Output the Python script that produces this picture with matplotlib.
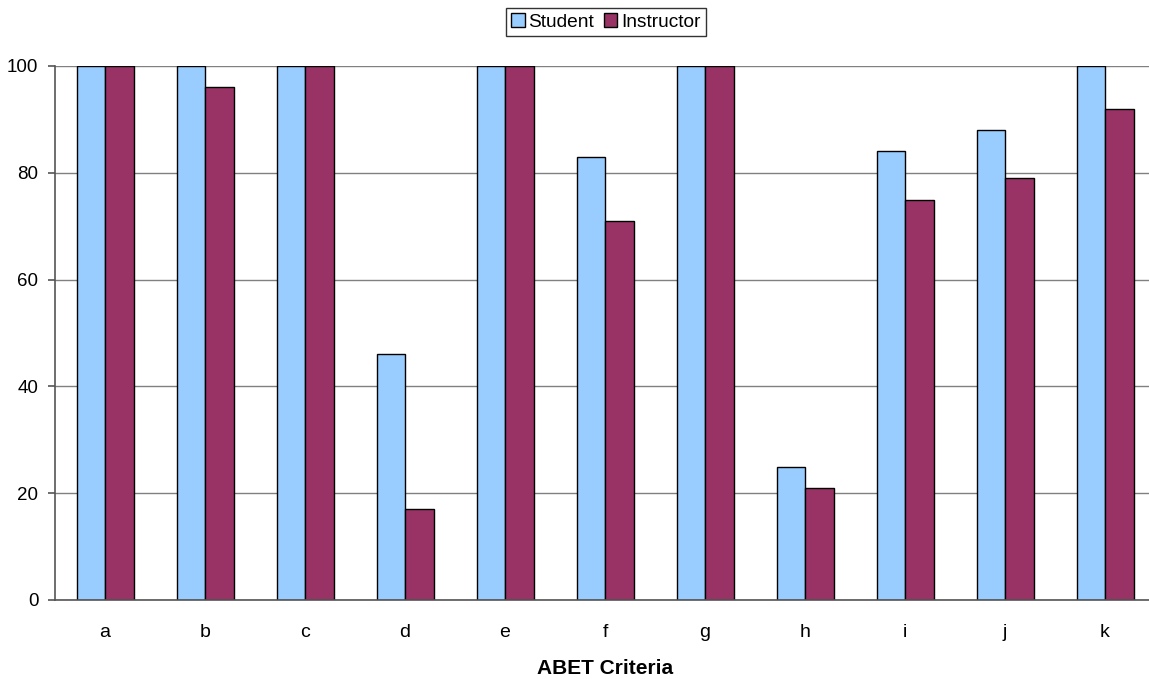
import matplotlib
matplotlib.use("Agg")
import matplotlib.pyplot as plt
import numpy as np
from matplotlib.patches import Patch

plt.rcParams['font.family'] = ['Liberation Sans', 'DejaVu Sans']

categories = ['a', 'b', 'c', 'd', 'e', 'f', 'g', 'h', 'i', 'j', 'k']
student = [100, 100, 100, 46, 100, 83, 100, 25, 84, 88, 100]
instructor = [100, 96, 100, 17, 100, 71, 100, 21, 75, 79, 92]
yticks = [0, 20, 40, 60, 80, 100]

student_color = '#99CCFF'
instructor_color = '#993366'

fig = plt.figure(figsize=(11.49, 6.79), dpi=100)
ax = fig.add_axes([55 / 1149, 79 / 679, 1100 / 1149, 534 / 679])

x = np.arange(len(categories))
w = 0.285
ax.bar(x - w / 2, student, width=w, color=student_color, edgecolor='black',
       linewidth=1.0, zorder=3)
ax.bar(x + w / 2, instructor, width=w, color=instructor_color, edgecolor='black',
       linewidth=1.0, zorder=3)

ax.set_xlim(-0.5, len(categories) - 0.5)
ax.set_ylim(0, 100)
ax.set_yticks(yticks)
ax.set_xticks(x)
ax.set_xticklabels(categories, fontsize=14)
ax.tick_params(axis='x', length=0, pad=17)
ax.tick_params(axis='y', length=5, width=1.2, color='#555555', labelsize=13.5, pad=7)

ax.yaxis.grid(True, color='#808080', linewidth=1.0, zorder=0)
for side in ('top', 'right'):
    ax.spines[side].set_visible(False)
ax.spines['left'].set_color('#555555')
ax.spines['left'].set_linewidth(1.2)
ax.spines['bottom'].set_color('#555555')
ax.spines['bottom'].set_linewidth(1.2)
ax.spines['bottom'].set_zorder(4)

ax.set_xlabel('ABET Criteria', fontsize=15, fontweight='bold', labelpad=13)

handles = [Patch(facecolor=student_color, edgecolor='black', label='Student'),
           Patch(facecolor=instructor_color, edgecolor='black', label='Instructor')]
leg = fig.legend(handles=handles, loc='center', bbox_to_anchor=(606 / 1149, 1 - 22 / 679),
                 ncol=2, frameon=True, fancybox=False, edgecolor='black',
                 fontsize=13.8, handlelength=0.7, handleheight=0.7,
                 handletextpad=0.2, columnspacing=0.5, borderpad=0.3,
                 borderaxespad=0)
leg.get_frame().set_linewidth(1.0)

fig.savefig('out.png', dpi=100)
